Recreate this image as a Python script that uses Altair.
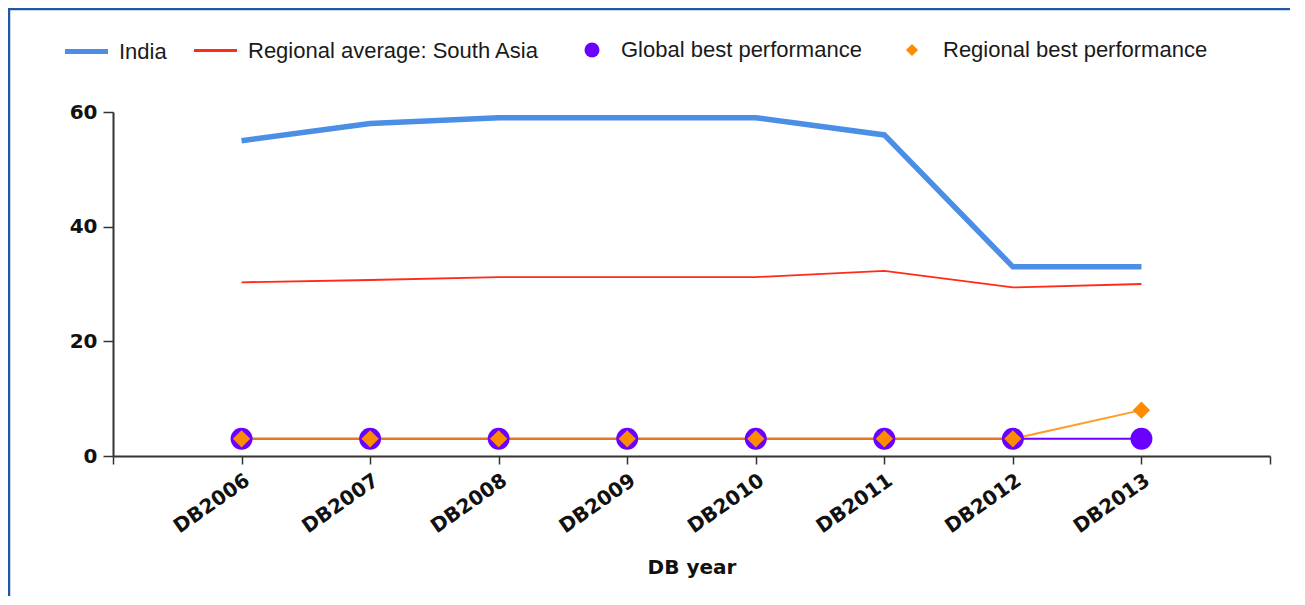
import json
import altair as alt
import pandas as pd

years = ["DB2006", "DB2007", "DB2008", "DB2009", "DB2010", "DB2011", "DB2012", "DB2013"]
india = [55, 58, 59, 59, 59, 56, 33, 33]
regional_avg = [30.3, 30.7, 31.2, 31.2, 31.2, 32.3, 29.4, 30.0]
global_best = [3, 3, 3, 3, 3, 3, 3, 3]
regional_best = [3, 3, 3, 3, 3, 3, 3, 8]
y_ticks = [0, 20, 40, 60]

series_names = ["India", "Regional average: South Asia",
                "Global best performance", "Regional best performance"]
series_colors = ["#4a8ee6", "#ff2a1a", "#6a00ff", "#ff8c00"]

rows = []
for name, vals in zip(series_names, [india, regional_avg, global_best, regional_best]):
    for i, (yr, v) in enumerate(zip(years, vals)):
        rows.append({"series": name, "year": yr, "pos": i + 1, "value": v})
df = pd.DataFrame(rows)

S_IND, S_AVG, S_GLB, S_REG = series_names
C_IND, C_AVG, C_GLB, C_REG = series_colors


def leg(lx, ly, stype, ssize, swidth, loff):
    return alt.Legend(
        title=None, orient="none", legendX=lx, legendY=ly, direction="horizontal",
        symbolType=stype, symbolSize=ssize, symbolStrokeWidth=swidth,
        labelFont="Liberation Sans", labelFontSize=22, labelColor="#1a1a1a",
        labelOffset=loff, labelLimit=500, symbolOpacity=1)


def col(name, c, legend):
    return alt.Color("series:N", scale=alt.Scale(domain=[name], range=[c]), legend=legend)


label_expr = f"{json.dumps(years)}[datum.value - 1] || ''"
x = alt.X("pos:Q", scale=alt.Scale(domain=[0, 9], nice=False, zero=False),
          axis=alt.Axis(values=list(range(0, 10)), labelExpr=label_expr, labelAngle=-35,
                        labelFont="DejaVu Sans", labelFontWeight="bold", labelFontSize=20,
                        labelColor="#111", labelOverlap=False, labelFlush=False, labelPadding=6,
                        title="DB year", titleFont="DejaVu Sans", titleFontWeight="bold",
                        titleFontSize=20, titleColor="#111", titleY=101, titleBaseline="top",
                        tickSize=8, tickColor="#333", tickWidth=1.5,
                        domainColor="#333", domainWidth=2, grid=False))
y = alt.Y("value:Q", scale=alt.Scale(domain=[0, 60], nice=False),
          axis=alt.Axis(values=y_ticks, labelFont="DejaVu Sans", labelFontWeight="bold",
                        labelFontSize=20, labelColor="#111", labelPadding=6,
                        tickSize=10, tickColor="#333", tickWidth=1.5,
                        domainColor="#333", domainWidth=2, grid=False, title=None))

base = alt.Chart(df).encode(x=x, y=y)

l_ind = base.transform_filter(alt.datum.series == S_IND).mark_line(strokeWidth=5.5).encode(
    color=col(S_IND, C_IND, leg(-50.5, -84.5, "stroke", 1849, 5, 8.5)))
l_avg = base.transform_filter(alt.datum.series == S_AVG).mark_line(strokeWidth=1.8).encode(
    color=col(S_AVG, C_AVG, leg(79.5, -84.5, "stroke", 1849, 3, 9.5)))
l_glb = base.transform_filter(alt.datum.series == S_GLB).mark_line(strokeWidth=2, color=C_GLB)
l_reg = base.transform_filter(alt.datum.series == S_REG).mark_line(strokeWidth=2, color=C_REG, opacity=0.85)
p_glb = base.transform_filter(alt.datum.series == S_GLB).mark_point(
    shape="circle", filled=True, size=480, opacity=1).encode(
    color=col(S_GLB, C_GLB, leg(468, -73, "circle", 225, 0, 18)))
p_reg = base.transform_filter(alt.datum.series == S_REG).mark_point(
    shape="diamond", filled=True, size=300, opacity=1).encode(
    color=col(S_REG, C_REG, leg(788, -73, "diamond", 150, 0, 20)))

frame_data = alt.Data(values=[{"k": 1}])
top_border = alt.Chart(frame_data).mark_rule(color="#1f58a6", strokeWidth=2.5).encode(
    x=alt.value(-105), x2=alt.value(1200), y=alt.value(-103))
left_border = alt.Chart(frame_data).mark_rule(color="#1f58a6", strokeWidth=2.5).encode(
    x=alt.value(-104), y=alt.value(-104), y2=alt.value(500))

chart = alt.layer(top_border, left_border, l_ind, l_avg, l_glb, l_reg, p_glb, p_reg).resolve_scale(
    color="independent"
).properties(
    width=1157, height=344,
    background="white",
    autosize=alt.AutoSizeParams(type="none"),
    padding={"left": 105, "top": 104, "right": 20, "bottom": 140},
).configure_view(stroke=None, strokeWidth=0)

chart.save("out.html", embed_options={"renderer": "svg", "actions": False})
